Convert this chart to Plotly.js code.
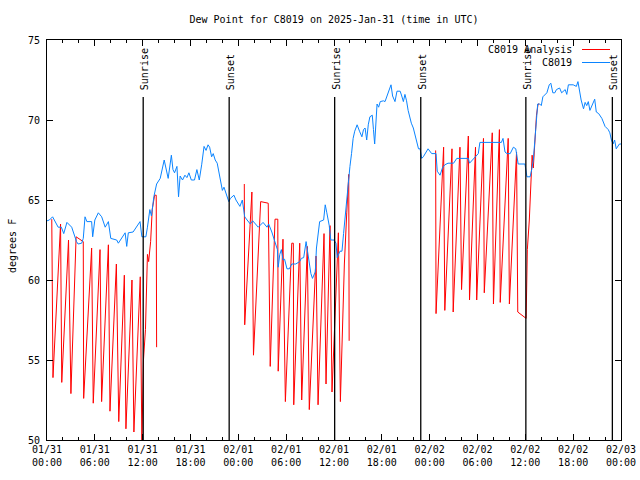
<!DOCTYPE html>
<html>
<head>
<meta charset="utf-8">
<script src="https://cdn.plot.ly/plotly-3.0.1.min.js"></script>
<style>html,body{margin:0;padding:0;background:#fff;}#chart{width:640px;height:480px;}</style>
</head>
<body>
<div id="chart"></div>
<script>
// ---- data (hours after 2025-01-31 00:00 UTC, dew point in degrees F) ----
const obsHours = [0.0,0.3,0.7,1.0,1.4,1.8,2.1,2.5,3.1,3.3,3.7,3.9,4.35,4.55,4.77,5.0,5.6,5.73,6.0,6.44,6.86,7.3,7.7,8.0,8.74,8.95,9.37,9.8,10.0,10.2,10.8,11.67,11.9,12.4,12.6,12.9,13.1,13.4,13.75,14.2,14.7,15.0,15.2,15.6,15.8,16.0,16.3,16.5,16.7,17.0,17.3,17.55,17.8,18.1,18.5,18.8,19.1,19.4,19.7,19.95,20.2,20.4,20.65,20.85,21.1,21.35,21.6,21.8,22.0,22.2,22.5,22.8,23.0,23.45,23.7,24.2,24.5,24.8,25.1,25.5,25.8,26.0,26.5,26.9,27.1,27.6,27.8,28.2,28.4,28.6,28.9,29.0,29.2,29.4,29.6,29.8,30.1,30.4,30.7,31.2,31.7,31.9,32.2,32.5,32.7,32.9,33.1,33.3,33.5,33.65,33.8,34.0,34.2,34.7,34.9,35.1,35.4,35.6,36.0,36.25,36.4,36.75,37.0,37.2,37.4,37.6,37.8,38.0,38.2,38.4,38.6,38.9,39.2,39.5,39.7,39.9,40.1,40.3,40.5,40.8,40.95,41.1,41.4,41.6,41.8,42.2,42.4,42.6,42.8,43.0,43.15,43.35,43.65,43.9,44.3,44.5,44.7,44.9,45.1,45.3,45.5,45.7,45.95,46.2,46.4,46.6,46.8,47.0,47.2,47.4,47.6,47.8,48.25,48.8,48.95,49.3,49.6,49.9,50.3,51.0,51.4,52.4,52.85,53.0,53.5,54.1,54.3,57.0,57.2,57.45,57.7,58.1,58.5,58.8,59.1,59.95,60.2,60.6,60.8,61.0,61.2,61.4,61.55,61.8,62.0,62.2,62.7,63.0,63.2,63.45,63.7,63.9,64.3,64.55,65.0,65.2,65.4,66.0,66.4,66.6,66.8,67.0,67.3,67.5,67.7,67.9,68.1,68.4,68.7,68.9,69.2,69.6,70.0,70.4,70.6,70.8,71.0,71.2,71.4,71.8,72.0];
const obsDewF = [63.7,63.75,63.95,63.65,63.3,63.3,62.9,63.6,63.3,63.0,62.4,62.25,62.3,62.6,63.95,63.65,63.65,62.7,63.75,64.2,63.95,63.3,63.65,62.6,62.5,62.3,62.6,62.95,62.1,62.95,63.0,63.65,62.7,62.7,63.3,64.4,64.0,65.2,66.0,66.35,67.5,66.9,66.35,67.8,66.9,66.7,67.1,65.2,66.5,66.25,66.55,66.4,66.7,66.25,66.25,66.9,66.25,67.2,68.35,68.1,68.45,68.3,67.7,67.9,67.5,67.3,66.7,66.0,65.6,65.8,65.3,64.9,65.1,65.3,65.0,64.6,65.0,63.95,63.75,63.5,63.7,63.6,63.3,63.5,63.6,63.3,63.5,63.0,62.7,62.3,61.9,60.8,61.6,61.9,61.25,61.3,60.7,60.7,61.0,61.0,61.15,61.35,61.4,62.4,61.7,61.25,60.4,60.1,60.4,60.5,62.0,62.7,63.65,63.75,64.7,64.2,63.4,62.5,62.5,62.3,61.4,61.8,61.8,62.9,64.05,64.8,66.0,67.1,67.9,68.85,69.3,69.7,69.3,68.95,69.4,69.5,68.75,69.7,70.2,70.3,69.4,68.5,71.0,70.8,71.15,71.2,71.15,71.45,71.8,72.0,72.2,71.5,71.15,71.8,71.8,71.5,71.15,71.6,71.2,70.6,70.1,69.8,69.5,68.95,68.5,68.2,68.2,67.6,67.7,67.9,68.1,68.2,67.9,67.9,66.8,66.55,67.0,67.2,67.3,67.3,67.6,67.6,67.6,67.3,67.6,67.9,68.6,68.6,68.85,68.0,67.9,67.9,68.3,68.2,67.25,67.25,66.45,66.45,66.9,67.5,68.75,70.3,71.0,71.0,70.9,71.45,71.7,72.2,72.3,71.7,71.7,71.9,72.0,71.7,71.9,71.6,72.2,72.2,72.1,72.4,71.8,71.25,70.7,71.1,70.9,71.15,70.6,70.9,71.3,70.5,70.4,70.1,69.6,69.4,69.2,68.75,68.5,68.75,68.2,68.5,68.5];

const anaHours = [0.6,0.75,1.7,1.85,2.7,3.0,3.65,4.55,4.6,5.6,5.8,6.65,6.85,7.7,7.9,8.7,9.0,9.7,9.9,10.66,10.9,11.7,11.9,12.1,12.35,12.5,12.6,12.75,13.0,13.2,13.5,13.7,13.75,
  20.0,
  24.75,24.8,25.7,25.9,26.8,27.75,28.0,28.6,28.95,29.0,29.6,29.9,30.7,30.9,30.95,31.7,31.95,32.65,32.9,33.75,34.0,34.75,35.0,35.5,35.75,36.55,36.8,37.3,37.6,37.85,37.9,
  44.0,
  48.75,48.8,49.75,49.9,50.8,50.95,51.8,52.0,52.85,53.0,53.75,53.9,54.75,54.85,55.85,56.0,56.75,56.85,57.85,58.0,58.9,59.05,60.1,60.25,60.5,60.7,60.85,61.0,61.2,61.4,61.6,61.75];
const anaDewF = [63.8,53.9,63.5,53.6,62.5,52.9,62.7,62.4,52.6,62.0,52.3,61.9,52.4,62.2,51.8,61.0,51.15,60.3,50.7,60.0,50.5,60.2,49.8,55.0,56.9,60.6,61.6,61.15,62.4,64.4,65.3,65.3,55.8,
  null,
  66.0,57.2,65.5,55.3,64.9,64.8,54.6,63.8,63.8,54.3,62.55,52.4,62.3,62.3,52.2,62.3,52.5,62.1,51.9,61.5,52.2,62.9,53.5,63.4,53.0,62.95,52.4,61.0,64.2,66.6,56.2,
  null,
  68.1,57.9,68.3,58.1,68.2,58.0,68.3,59.4,69.0,58.75,68.3,58.75,68.85,59.2,69.2,58.5,69.4,58.6,68.85,58.5,68.0,58.0,57.6,61.9,63.75,65.6,67.8,67.0,69.0,70.3,71.0,71.0];

const sunriseTimes = ['2025-01-31 12:04', '2025-02-01 12:05', '2025-02-02 12:04'];
const sunsetTimes  = ['2025-01-31 22:51', '2025-02-01 22:53', '2025-02-02 22:55'];
const seriesNames = ['C8019 Analysis', 'C8019'];
const seriesColors = ['#ff0000', '#0a84ff'];

// ---- helpers ----
const base = Date.UTC(2025, 0, 31, 0, 0, 0);
function hToDate(h) {
  const d = new Date(base + Math.round(h * 3600000));
  return d.toISOString().slice(0, 19).replace('T', ' ');
}

const font = 'DejaVu Sans Mono, Liberation Mono, monospace';

const traces = [
  {x: anaHours.map(hToDate), y: anaDewF, type: 'scatter', mode: 'lines', name: seriesNames[0],
   line: {color: seriesColors[0], width: 1}, connectgaps: false, hoverinfo: 'skip'},
  {x: obsHours.map(hToDate), y: obsDewF, type: 'scatter', mode: 'lines', name: seriesNames[1],
   line: {color: seriesColors[1], width: 1}, hoverinfo: 'skip'}
];

const shapes = [];
const annotations = [];
const lineTop = (440 - 97) / 400;
sunriseTimes.forEach(t => {
  shapes.push({type: 'line', xref: 'x', yref: 'paper', x0: t, x1: t, y0: 0, y1: lineTop, line: {color: '#000', width: 1.3}});
  annotations.push({xref: 'x', yref: 'paper', x: t, y: (440 - 92) / 400, xanchor: 'center', yanchor: 'bottom', xshift: 1,
    text: 'Sunrise', textangle: -90, showarrow: false, font: {family: font, size: 10, color: '#000'}});
});
sunsetTimes.forEach(t => {
  shapes.push({type: 'line', xref: 'x', yref: 'paper', x0: t, x1: t, y0: 0, y1: lineTop, line: {color: '#000', width: 1.3}});
  annotations.push({xref: 'x', yref: 'paper', x: t, y: (440 - 92) / 400, xanchor: 'center', yanchor: 'bottom', xshift: 1,
    text: 'Sunset', textangle: -90, showarrow: false, font: {family: font, size: 10, color: '#000'}});
});

// legend (gnuplot style: text, then line sample on the right)
const legY = [49.5, 62.5];
seriesNames.forEach((n, i) => {
  const py = (440 - legY[i]) / 400;
  annotations.push({xref: 'paper', yref: 'paper', x: (574 - 47) / 574, y: py, xanchor: 'right', yanchor: 'middle',
    text: n, showarrow: false, font: {family: font, size: 10, color: '#000'}});
  shapes.push({type: 'line', xref: 'paper', yref: 'paper', x0: (582 - 47) / 574, x1: (610 - 47) / 574, y0: py, y1: py,
    line: {color: seriesColors[i], width: 1}});
});

// y-axis title
annotations.push({xref: 'paper', yref: 'paper', x: (12 - 47) / 574, y: (440 - 246) / 400, xanchor: 'center', yanchor: 'middle',
  text: 'degrees F', textangle: -90, showarrow: false, font: {family: font, size: 10, color: '#000'}});

const layout = {
  width: 640, height: 480,
  margin: {l: 47, r: 19, t: 40, b: 40, pad: 0},
  paper_bgcolor: '#fff', plot_bgcolor: '#fff',
  showlegend: false,
  font: {family: font, size: 10, color: '#000'},
  title: {text: 'Dew Point for C8019 on 2025-Jan-31 (time in UTC)', xref: 'paper', x: 0.5, xanchor: 'center',
    yref: 'container', y: 1 - 19 / 480, yanchor: 'middle',
    font: {family: font, size: 10, color: '#000'}},
  xaxis: {
    type: 'date', range: ['2025-01-31 00:00', '2025-02-03 00:00'],
    tick0: '2025-01-31 00:00', dtick: 6 * 3600000, tickformat: '%m/%d<br>%H:%M',
    ticks: 'inside', ticklen: 6, tickcolor: '#000', tickwidth: 1,
    minor: {dtick: 2 * 3600000, ticks: 'inside', ticklen: 3, tickcolor: '#000', tickwidth: 1},
    showline: true, linecolor: '#000', linewidth: 1, mirror: 'allticks',
    showgrid: false, zeroline: false, fixedrange: true,
    tickfont: {family: font, size: 10, color: '#000'}
  },
  yaxis: {
    range: [50, 75], tick0: 50, dtick: 5,
    ticks: 'inside', ticklen: 6, tickcolor: '#000', tickwidth: 1,
    showline: true, linecolor: '#000', linewidth: 1, mirror: 'allticks',
    showgrid: false, zeroline: false, fixedrange: true,
    ticklabelstandoff: 4,
    tickfont: {family: font, size: 10, color: '#000'}
  },
  shapes: shapes,
  annotations: annotations
};

Plotly.newPlot('chart', traces, layout, {staticPlot: true, displayModeBar: false});
</script>
</body>
</html>
